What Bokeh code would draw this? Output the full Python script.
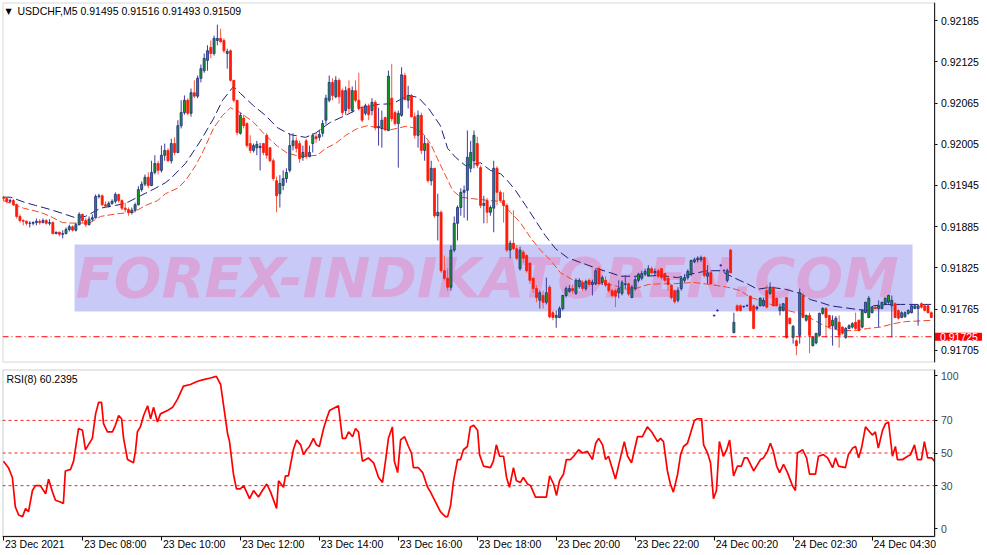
from bokeh.plotting import figure
from bokeh.layouts import column
from bokeh.models import Range1d, FixedTicker, PrintfTickFormatter, Label, BoxAnnotation, ColumnDataSource
from bokeh.core.properties import value
from bokeh.embed import file_html
from bokeh.resources import INLINE

# ---------------- data ----------------
symbol_header = "USDCHF,M5  0.91495 0.91516 0.91493 0.91509"
rsi_header = "RSI(8) 60.2395"
watermark = "FOREX-INDIKATOREN.COM"
price_ticks = [0.92185, 0.92125, 0.92065, 0.92005, 0.91945, 0.91885, 0.91825, 0.91765, 0.91705]
current_price = 0.91725
rsi_levels = [30, 50, 70]
# RSI scale labels and where the terminal prints them (end labels are pulled inside the panel)
rsi_tick_labels = ["0", "30", "50", "70", "100"]
rsi_tick_pos = [3.5, 30, 50, 70, 97.5]
time_tick_bars = [0, 24, 48, 72, 96, 120, 144, 168, 192, 216, 240, 264]
time_labels = ["23 Dec 2021", "23 Dec 08:00", "23 Dec 10:00", "23 Dec 12:00", "23 Dec 14:00",
               "23 Dec 16:00", "23 Dec 18:00", "23 Dec 20:00", "23 Dec 22:00", "24 Dec 00:20",
               "24 Dec 02:30", "24 Dec 04:30"]

# candles: (open, high, low, close) in points above 0.91000 (1 point = 0.00001)
candles = [
    (928,930,922,926),(926,928,919,922),(922,926,919,923),(923,925,915,917),(917,919,897,900),
    (900,903,891,894),(894,896,887,893),(893,894,887,890),(890,893,884,890),(890,893,887,891),
    (891,897,887,893),(893,896,888,891),(891,897,890,894),(894,896,888,890),(890,896,887,891),
    (891,893,874,875),(875,878,874,877),(877,878,871,874),(874,880,868,875),(875,884,874,881),
    (881,888,878,885),(885,887,878,880),(880,891,878,888),(888,906,887,903),(903,904,891,894),
    (894,898,885,888),(888,900,887,896),(896,903,893,898),(898,932,897,929),(929,933,926,930),
    (930,932,915,917),(917,922,912,915),(915,922,913,919),(919,925,917,922),(922,935,919,932),
    (932,933,920,923),(923,925,909,912),(912,920,906,910),(910,913,901,906),(906,913,903,909),
    (909,920,906,917),(917,944,916,939),(939,951,936,947),(947,961,944,957),(957,964,941,945),
    (945,981,944,964),(964,989,961,977),(977,981,961,967),(967,1003,964,989),(989,1006,981,996),
    (996,999,979,981),(981,1013,977,1006),(1006,1015,989,993),(993,1040,992,1032),(1032,1069,1028,1051),
    (1051,1076,1048,1069),(1069,1072,1047,1050),(1050,1086,1045,1080),(1080,1098,1072,1075),(1075,1105,1072,1101),
    (1101,1121,1095,1115),(1112,1137,1109,1130),(1127,1149,1112,1141),(1146,1156,1130,1137),(1137,1163,1134,1159),
    (1156,1179,1149,1159),(1159,1173,1153,1154),(1156,1159,1138,1141),(1137,1144,1115,1140),(1141,1143,1096,1098),
    (1098,1098,1066,1069),(1069,1069,1018,1022),(1021,1051,1019,1047),(1043,1048,1028,1032),(1035,1037,1000,1003),
    (1006,1018,992,996),(996,1006,993,1003),(1000,1010,989,1005),(1000,1007,967,1002),(1006,1007,989,993),
    (1018,1021,984,989),(1000,1000,979,981),(981,984,952,955),(952,958,906,930),(933,960,913,948),
    (945,967,938,955),(955,970,949,964),(967,1021,964,1003),(1003,1021,996,1010),(1010,1015,993,999),
    (1006,1010,978,984),(986,1003,981,993),(1010,1013,984,987),(987,1003,986,993),(1006,1021,993,1018),
    (1016,1022,1007,1013),(1015,1025,1010,1019),(1021,1040,1016,1035),(1040,1077,1034,1072),(1069,1105,1066,1095),
    (1095,1101,1069,1076),(1074,1104,1072,1098),(1098,1101,1064,1074),(1083,1086,1047,1051),(1054,1089,1048,1083),
    (1086,1098,1051,1057),(1054,1089,1051,1083),(1083,1098,1066,1069),(1069,1109,1054,1057),(1057,1061,1037,1040),
    (1050,1064,1047,1061),(1061,1064,1040,1048),(1054,1072,1047,1066),(1066,1069,1025,1029),(1029,1058,1003,1031),
    (1028,1054,1000,1040),(1044,1045,1024,1026),(1025,1112,1024,1104),(1072,1122,1038,1042),(1051,1054,1032,1035),
    (1035,1054,971,1050),(1047,1117,1045,1106),(1105,1109,1069,1070),(1069,1090,1057,1076),(1076,1078,1044,1045),
    (1045,1051,1013,1018),(1018,1054,1000,1047),(1047,1051,991,996),(996,1018,981,1006),(1006,1010,949,952),
    (952,981,945,970),(970,970,898,901),(901,933,865,906),(906,909,818,821),(821,843,807,810),
    (810,824,792,797),(797,858,792,851),(851,900,848,890),(890,916,865,913),(913,941,901,935),
    (935,945,898,938),(938,1025,894,986),(970,1010,964,993),(981,1025,970,1018),(1006,1016,970,974),
    (971,974,912,916),(916,930,890,919),(923,927,890,906),(906,916,901,913),(912,981,877,970),
    (970,973,916,935),(935,938,920,923),(923,935,891,916),(916,919,848,851),(851,865,839,861),
    (861,909,851,853),(853,858,836,839),(824,856,821,851),(848,851,833,839),(843,845,818,821),
    (832,833,802,807),(810,811,789,795),(795,800,775,782),(778,792,766,789),(785,792,766,775),
    (775,811,772,789),(797,800,752,754),(760,763,749,753),(753,763,738,756),(753,769,752,766),
    (766,786,763,785),(785,798,782,795),(791,800,789,795),(795,801,788,792),(788,810,786,807),
    (798,810,795,807),(804,807,792,795),(795,808,792,805),(807,810,798,801),(801,808,785,804),
    (802,824,800,821),(824,827,800,802),(804,814,800,811),(807,813,797,800),(802,804,789,792),
    (792,795,782,785),(792,795,768,784),(789,807,781,795),(788,807,785,804),(801,814,795,802),
    (802,804,784,787),(782,800,781,797),(795,813,792,808),(807,818,804,816),(810,821,807,817),
    (816,824,813,820),(814,829,813,824),(824,827,816,818),(818,824,814,820),(821,824,810,813),
    (824,824,808,811),(817,818,804,807),(810,813,792,801),(800,801,779,782),(792,792,773,776),
    (778,797,775,792),(795,813,792,810),(807,816,804,811),(811,823,808,820),(816,837,813,836),
    (834,840,832,837),(837,842,833,839),(837,843,834,840),(840,842,811,814),(813,829,802,818),
    (818,821,801,802),(756,757,754,756),(763,765,762,763),(829,830,827,829),(821,823,820,821),
    (807,824,804,821),(851,853,817,818),(731,760,730,746),(770,772,762,763),(770,772,762,763),
    (769,770,767,769),(770,772,769,770),(784,785,762,763),(770,772,736,737),(766,770,763,768),
    (770,782,769,781),(770,782,769,778),(792,800,766,768),(788,804,786,797),(797,798,769,770),
    (781,782,769,770),(763,773,756,768),(763,774,762,773),(782,783,722,724),(752,753,743,744),
    (724,742,715,740),(719,721,698,712),(727,795,715,789),(785,789,752,753),(749,757,747,756),
    (756,760,701,727),(712,725,711,724),(716,730,714,730),(727,760,725,759),(759,768,757,766),
    (766,768,724,753),(756,757,737,739),(741,756,712,749),(737,755,736,752),(746,756,709,727),
    (739,740,728,730),(724,739,722,737),(737,743,736,741),(739,746,737,744),(746,760,734,737),
    (749,750,733,734),(739,765,737,763),(760,776,759,775),(753,784,752,781),(760,769,759,768),
    (768,769,765,766),(766,778,739,770),(766,776,765,775),(773,782,772,781),(775,786,773,785),
    (770,785,724,778),(773,775,752,753),(763,765,750,752),(753,762,752,760),(754,762,753,760),
    (759,765,757,763),(760,772,759,770),(766,772,765,770),(766,772,741,770),(773,775,766,768),
    (770,772,762,763),(770,772,759,760),(760,762,752,753),
]

# moving averages: (bar index, points above 0.91000)
ma_slow = [(0,928),(2.1,928),(6.7,920),(9.7,916),(14.3,910),(18.8,903),(21.9,898),(24.9,900),(29.5,912),
    (34,916),(37.1,919),(41.6,930),(46.2,941),(49.2,949),(50.8,955),(55.3,977),(59.9,1010),(63.8,1042),
    (66.6,1069),(69.9,1089),(72,1079),(76,1061),(79.6,1047),(83.3,1029),(87.2,1019),(91.8,1015),(94.8,1021),
    (97.9,1032),(99.4,1037),(104,1047),(108.5,1058),(114,1063),(118.2,1064),(123.1,1076),(126.1,1073),
    (129.2,1057),(132.8,1032),(135,999),(137.4,986),(140.4,974),(145,978),(148,967),(151.1,962),(153.2,952),
    (155.6,938),(158.7,916),(161.7,894),(164.7,872),(167.8,853),(171.4,840),(175.4,833),(180.5,824),
    (184.5,818),(187.5,813),(193.6,813),(199.7,814),(204.9,811),(208.8,816),(214,821),(217.9,821),
    (221.9,811),(226.1,802),(229.2,794),(233.1,797),(237.7,794),(242.2,788),(245.3,779),(248.3,775),
    (251.4,770),(254.4,768),(259,765),(262.6,763),(264.4,770),(268.7,772),(272.6,772),(282.7,772)]
ma_fast = [(0,923),(6.1,912),(11.2,906),(14.3,900),(17.9,891),(22.5,890),(26.4,891),(29.5,900),(34.7,904),
    (39.5,906),(43.2,916),(46.8,923),(49.2,933),(52.9,941),(55.3,952),(58.4,974),(60.8,996),(63.8,1028),
    (66.6,1047),(69,1058),(72,1051),(76,1037),(79.6,1018),(83.3,1002),(86.3,992),(90.3,987),(95.4,989),
    (97.9,999),(100.9,1006),(104,1018),(107.6,1028),(110.6,1032),(114.6,1028),(117.6,1026),(122.2,1031),
    (124.6,1029),(127.4,1021),(129.8,1006),(131.9,984),(134.3,960),(136.5,938),(138.9,928),(144.1,925),
    (148,923),(151.1,922),(154.1,906),(157.1,891),(160.2,869),(163.2,851),(166.3,836),(169.3,818),
    (173.3,807),(178.4,804),(185.4,800),(189.1,794),(192.1,795),(196,801),(199.7,802),(203.6,802),
    (209.7,804),(214.9,801),(220.1,797),(224,792),(227,782),(230.1,778),(233.1,772),(236.2,768),
    (239.2,762),(242.2,759),(245.3,752),(248.3,744),(251.4,737),(254.4,734),(259,734),(262.6,737),
    (266.6,739),(270.5,744),(274.2,747),(282.7,749)]

# RSI(8): (bar index, value)
rsi = [(0,45),(1.5,41),(2.7,35),(3.6,17),(4.6,12),(5.8,11),(6.7,16),(7.6,14),(8.8,27),(9.7,30),(11.2,30),
    (12.8,25),(13.7,34),(14.9,26),(15.8,21),(17.3,20),(18.2,19),(18.8,39),(20.4,40),(21.3,45),(22.8,65),(24,64),
    (24.9,52),(25.8,55),(27,59),(28,74),(28.9,81),(29.8,81),(30.4,68),(31.6,63),(33.1,63),(34,67),(35,73),
    (35.9,71),(36.5,59),(37.7,46),(39.5,44),(40.1,51),(40.7,63),(41.6,66),(42.6,73),(43.8,79),(44.7,71),
    (45.6,78),(46.8,69),(47.7,74),(49.8,76),(51.4,78),(52.9,83),(54.7,91),(56.8,92),(59,94),(60.8,95),
    (62.9,96),(64.7,97),(66,92),(66.9,79),(68.1,62),(68.7,57),(69.9,37),(70.8,28),(72,28),(73,30),(74.8,22),
    (76,27),(77.5,23),(78.7,27),(80,31),(81.2,26),(83,16),(83.6,33),(85.1,29),(85.7,36),(86.6,36),(88.1,52),
    (89.1,58),(90.3,55),(91.2,49),(92.1,52),(93,54),(94.2,59),(95.1,55),(96,54),(97.3,65),(98.2,71),(99.1,76),
    (101.8,79),(103,59),(104,59),(104.9,63),(106.1,60),(107,65),(107.9,63),(109.1,45),(110.9,47),(112.5,44),
    (114,35),(115.2,32),(116.1,45),(117,59),(118.2,66),(118.8,45),(119.8,38),(120.7,58),(121.9,60),(123.1,54),
    (124,50),(124.6,41),(126.1,41),(127.4,38),(128.9,29),(129.8,26),(131.3,20),(132.8,14),(134.3,11),(135,11),
    (135.9,18),(136.8,33),(138,46),(138.9,46),(139.8,52),(141,54),(141.9,66),(142.9,67),(144.1,64),(144.7,49),
    (145.9,42),(148,41),(148.9,45),(149.8,55),(150.8,48),(152,48),(152.9,35),(153.8,29),(155,41),(155.9,33),
    (157.1,32),(158,35),(159.3,31),(160.2,30),(161.7,23),(164.1,23),(165,23),(166,36),(167.2,31),(168.1,24),
    (169,33),(170.2,37),(171.1,46),(172.3,46),(173.3,48),(174.8,52),(176,50),(177.5,51),(179,46),(180,56),
    (180.9,59),(182.1,55),(183,46),(183.9,48),(186,34),(187.5,47),(188.7,57),(189.7,48),(190.9,44),(191.8,52),
    (192.7,60),(194.2,60),(195.7,66),(197,63),(198.8,57),(199.7,59),(200.6,57),(201.8,39),(202.7,31),
    (203.6,26),(204.9,37),(205.8,49),(206.7,54),(207.9,56),(209.1,64),(210,70),(210.9,71),(212.2,71),
    (212.8,55),(214,50),(214.9,44),(215.8,22),(216.7,27),(217.6,57),(218.8,48),(219.8,52),(220.7,58),
    (221.9,36),(223.1,42),(224.3,42),(225.2,47),(226.1,47),(228,39),(229.2,43),(230.1,46),(231,47),(232.2,51),
    (233.1,56),(234,51),(235,42),(235.9,38),(237.1,43),(238.3,38),(239.8,30),(240.7,27),(241.3,50),(242.9,52),
    (244.1,47),(245,37),(246.8,37),(247.7,48),(249.2,49),(250.5,47),(252,41),(252.9,47),(253.8,42),(255.9,41),
    (256.8,49),(258.1,53),(259,54),(259.9,47),(260.8,53),(262,66),(264.1,61),(265,63),(265.9,53),(267.2,64),
    (268.1,68),(269,69),(270.2,48),(271.1,54),(271.7,46),(273.3,46),(274.8,48),(275.7,49),(276.9,55),
    (277.8,46),(279,46),(279.9,57),(280.9,47),(282.1,47),(283,45)]

# ---------------- helpers ----------------
BASE, PT = 0.91, 1e-5
def to_price(v):
    return BASE + v * PT

FONT = "Liberation Sans"
FS = "10.5px"

UP_FILL, UP_EDGE, UP_WICK = "#12A01A", "#26268E", "#3C3CA0"
DN_FILL, DN_EDGE, DN_WICK = "#FF1A0A", "#FF1A0A", "#F25A3C"
DOJI = "#2A2AA6"

xs, op, hi, lo, cl, top, bot, fill, edge, wick = [], [], [], [], [], [], [], [], [], []
for i, (o, h, l, c) in enumerate(candles):
    xs.append(i)
    po, ph, pl, pc = to_price(o), to_price(h), to_price(l), to_price(c)
    op.append(po); hi.append(ph); lo.append(pl); cl.append(pc)
    if c > o:
        top.append(pc); bot.append(po); fill.append(UP_FILL); edge.append(UP_EDGE); wick.append(UP_WICK)
    elif c < o:
        top.append(po); bot.append(pc); fill.append(DN_FILL); edge.append(DN_EDGE); wick.append(DN_WICK)
    else:
        top.append(po + 2e-6); bot.append(po - 2e-6); fill.append(DOJI); edge.append(DOJI); wick.append(DOJI)

src = ColumnDataSource(dict(x=xs, o=op, h=hi, l=lo, c=cl, top=top, bot=bot, fill=fill, edge=edge, wick=wick))

# geometry: bars 3.29 px apart; the chart area ends at bar X_AXIS, price scale drawn right of it
X_LEFT, X_AXIS, X_RIGHT = -0.304, 283.13, 298.48
Y1_LO, Y1_HI = 0.916875, 0.922112
R_LO, R_HI, R_BOTTOM = -1.2, 101.2, -12.84

# ---------------- main price panel ----------------
p1 = figure(width=985, height=365, x_range=Range1d(X_LEFT, X_RIGHT), y_range=Range1d(Y1_LO, Y1_HI),
            output_backend="svg", toolbar_location=None, x_axis_location=None,
            y_axis_location="right", min_border_left=2, min_border_right=0,
            min_border_top=2, min_border_bottom=3)
p1.xgrid.visible = False
p1.ygrid.visible = False
p1.outline_line_color = None
p1.background_fill_color = "white"
p1.border_fill_color = "white"

ya = p1.yaxis[0]
ya.fixed_location = X_AXIS
ya.ticker = FixedTicker(ticks=price_ticks)
ya.formatter = PrintfTickFormatter(format="%.5f")
ya.major_label_text_font = FONT
ya.major_label_text_font_size = FS
ya.major_label_text_color = "black"
ya.major_tick_out = 3
ya.major_tick_in = 0
ya.minor_tick_out = 0
ya.minor_tick_in = 0
ya.major_label_standoff = 3
ya.axis_line_color = "black"
ya.major_tick_line_color = "black"

# panel border
p1.add_layout(BoxAnnotation(left=X_LEFT, right=X_AXIS, bottom=Y1_LO, top=Y1_HI, fill_alpha=0,
                            line_color="#7A7A7A", line_width=2))

# watermark
p1.add_layout(BoxAnnotation(left=21.6, right=276.3, bottom=0.917617, top=0.918592,
                            fill_color="#C9C9F7", fill_alpha=1.0, line_color=None, level="underlay"))
p1.add_layout(Label(x=147.0, y=0.918112, text=watermark, text_align="center", text_baseline="middle",
                    text_font="DejaVu Sans", text_font_style="bold italic",
                    text_font_size="56px", text_color="#D8A6DA", level="underlay"))

# moving averages
p1.line([a for a, _ in ma_slow], [to_price(b) for _, b in ma_slow], line_color="#1E1E78",
        line_width=1, line_dash="9 4")
p1.line([a for a, _ in ma_fast], [to_price(b) for _, b in ma_fast], line_color="#EE4A2A",
        line_width=1, line_dash="7 3")

# candles
p1.segment(x0="x", y0="h", x1="x", y1="l", line_color="wick", line_width=1, source=src)
p1.vbar(x="x", width=0.62, top="top", bottom="bot", fill_color="fill", line_color="edge",
        line_width=0.8, source=src)

# current price line + tag
p1.segment(x0=[X_LEFT], y0=[current_price], x1=[X_AXIS], y1=[current_price], line_color="#FF0000",
           line_width=1, line_dash="6 3 1 3")
p1.add_layout(Label(x=X_AXIS, y=current_price, text="%.5f" % current_price, text_align="left",
                    text_baseline="middle", text_font=FONT, text_font_size=FS,
                    text_color="white", background_fill_color="#FF0000",
                    padding=dict(left=5, right=4, top=0, bottom=0)))

# header
p1.add_layout(Label(x=0.6, y=0.921985, text="\u25BC", text_align="left", text_baseline="middle",
                    text_font="DejaVu Sans", text_font_size="8px", text_color="black"))
p1.add_layout(Label(x=4.26, y=0.921985, text=symbol_header, text_align="left", text_baseline="middle",
                    text_font=FONT, text_font_size=FS, text_color="black"))

# ---------------- RSI panel ----------------
p2 = figure(width=985, height=190, x_range=Range1d(X_LEFT, X_RIGHT), y_range=Range1d(R_BOTTOM, R_HI),
            output_backend="svg", toolbar_location=None, y_axis_location="right",
            x_axis_location="below",
            min_border_left=2, min_border_right=0, min_border_top=4, min_border_bottom=0)
p2.xgrid.visible = False
p2.ygrid.visible = False
p2.outline_line_color = None
p2.background_fill_color = "white"
p2.border_fill_color = "white"

p2.add_layout(BoxAnnotation(left=X_LEFT, right=X_AXIS, bottom=R_LO, top=R_HI, fill_alpha=0,
                            line_color="#5A5A5A", line_width=2))

for lv in rsi_levels:
    p2.segment(x0=[X_LEFT], y0=[lv], x1=[X_AXIS], y1=[lv], line_color="#FF2020", line_width=1,
               line_dash="3 3")
p2.line([a for a, _ in rsi], [b for _, b in rsi], line_color="#FF0000", line_width=1.7)

p2.add_layout(Label(x=0.9, y=95.5, text=rsi_header, text_align="left", text_baseline="middle",
                    text_font=FONT, text_font_size=FS, text_color="black"))

ra = p2.yaxis[0]
ra.fixed_location = X_AXIS
ra.bounds = (R_LO, R_HI)
ra.ticker = FixedTicker(ticks=rsi_tick_pos)
ra.major_label_overrides = {p: t for p, t in zip(rsi_tick_pos, rsi_tick_labels)}
ra.major_label_text_font = FONT
ra.major_label_text_font_size = FS
ra.major_tick_out = 3
ra.major_tick_in = 0
ra.minor_tick_out = 0
ra.minor_tick_in = 0
ra.major_label_standoff = 3
ra.axis_line_color = "black"

xa = p2.xaxis[0]
xa.fixed_location = R_LO
xa.bounds = (X_LEFT, X_AXIS)
xa.ticker = FixedTicker(ticks=time_tick_bars)
xa.major_label_overrides = {b: "" for b in time_tick_bars}
xa.major_tick_out = 4
xa.major_tick_in = 0
xa.minor_tick_out = 0
xa.minor_tick_in = 0
xa.axis_line_color = "black"

# time labels, left-aligned at their tick as in the terminal
p2.text(x=time_tick_bars, y=[-5.5] * len(time_tick_bars), text=time_labels, x_offset=1.5,
        text_align="left", text_baseline="middle", text_font=value(FONT), text_font_size=FS,
        text_color="black")

layout = column(p1, p2, spacing=0)

open("out.html", "w").write(file_html(layout, INLINE))
